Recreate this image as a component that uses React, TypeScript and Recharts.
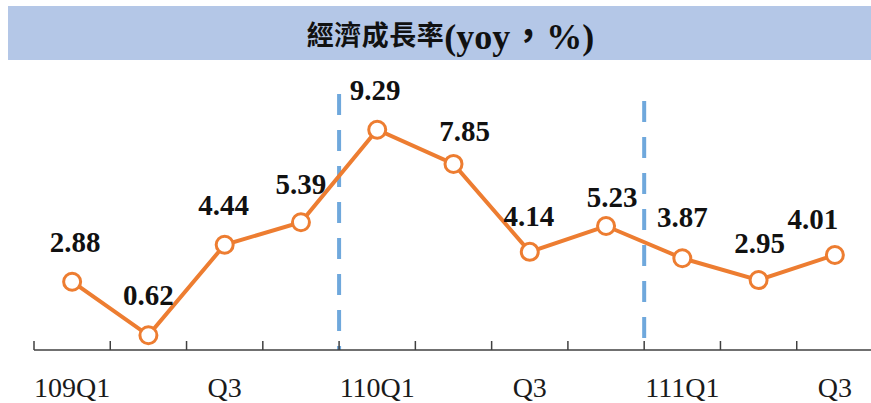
import { LineChart, Line, XAxis, YAxis, ReferenceLine, LabelList } from 'recharts';

const quarters = ['109Q1', '109Q2', '109Q3', '109Q4', '110Q1', '110Q2', '110Q3', '110Q4', '111Q1', '111Q2', '111Q3'];
const tickLabels = ['109Q1', '', 'Q3', '', '110Q1', '', 'Q3', '', '111Q1', '', 'Q3'];
const growth = [2.88, 0.62, 4.44, 5.39, 9.29, 7.85, 4.14, 5.23, 3.87, 2.95, 4.01];
const yearStarts = ['110Q1', '111Q1'];

// hand-placed label nudges (dx, dy to baseline) as in the source chart
const labelNudge = [
  [3, -30], [0, -30], [-1, -30], [0, -28], [-2, -30], [11, -23],
  [-1, -26], [6, -19], [0, -31], [1, -27], [-22, -26],
];

const data = quarters.map((q, i) => ({ q, v: growth[i] }));

const ORANGE = '#ED7D31';
const BAND = 839 / quarters.length;

function QuarterTick(props: any) {
  const { x, y, index } = props;
  const edge = x - BAND / 2;
  return (
    <g>
      <line x1={edge} y1={y} x2={edge} y2={y - 9} stroke="#404040" strokeWidth={1.5} />
      {tickLabels[index] ? (
        <text x={x} y={y + 47} textAnchor="middle" fontFamily="'Liberation Serif', serif" fontSize={28} fill="#1a1a1a">
          {tickLabels[index]}
        </text>
      ) : null}
    </g>
  );
}

function ValueLabel(props: any) {
  const { x, y, value, index } = props;
  const [dx, dy] = labelNudge[index] || [0, -28];
  return (
    <text x={x + dx} y={y + dy} textAnchor="middle" fontFamily="'Liberation Serif', serif" fontWeight="bold" fontSize={29} fill="#111">
      {value.toFixed(2)}
    </text>
  );
}

export default function App() {
  return (
    <div style={{ position: 'absolute', left: 0, top: 0, width: 871, height: 403, overflow: 'hidden', background: '#fff' }}>
      <div
        style={{
          position: 'absolute', left: 8, top: 6, width: 863, height: 54, background: '#B4C7E7',
          display: 'flex', alignItems: 'center', justifyContent: 'center', paddingLeft: 22, boxSizing: 'border-box',
          color: '#111', whiteSpace: 'nowrap',
        }}
      >
        <span style={{ fontFamily: "'Noto Sans CJK TC'", fontWeight: 700, fontSize: 27, letterSpacing: 0.5 }}>經濟成長率</span>
        <span style={{ fontFamily: "'Liberation Serif', 'Noto Sans CJK TC'", fontWeight: 700, fontSize: 36 }}>(yoy，%)</span>
      </div>
      <LineChart width={880} height={403} data={data} margin={{ top: 94, right: 7, bottom: 0, left: 34 }}>
        <XAxis
          dataKey="q"
          scale="band"
          interval={0}
          tickLine={false}
          tickSize={0}
          tickMargin={0}
          axisLine={{ stroke: '#404040', strokeWidth: 1.5 }}
          tick={<QuarterTick />}
          height={53}
        />
        <YAxis hide domain={[0, 10.8]} />
        {yearStarts.map((q, i) => (
          <ReferenceLine
            key={q}
            x={q}
            position="start"
            stroke="#6FA8DC"
            strokeWidth={4}
            strokeDasharray="21 15"
            strokeDashoffset={i === 0 ? 17 : 24}
          />
        ))}
        <Line
          type="linear"
          dataKey="v"
          stroke={ORANGE}
          strokeWidth={4}
          dot={{ r: 8.5, fill: '#fff', stroke: ORANGE, strokeWidth: 3 }}
          isAnimationActive={false}
        >
          <LabelList dataKey="v" content={<ValueLabel />} />
        </Line>
      </LineChart>
    </div>
  );
}
